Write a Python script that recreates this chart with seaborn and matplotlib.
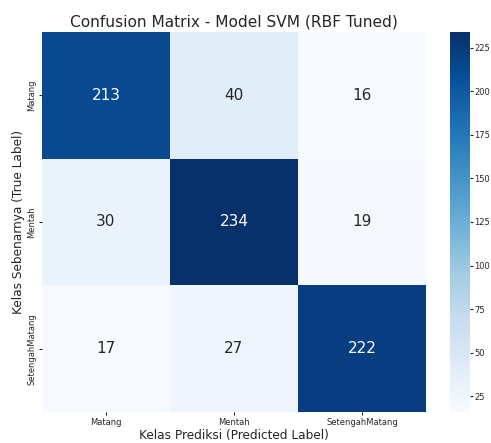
import matplotlib
matplotlib.use("Agg")
import matplotlib.pyplot as plt
import seaborn as sns
import numpy as np

labels = ["Matang", "Mentah", "SetengahMatang"]
row_matang = [213, 40, 16]
row_mentah = [30, 234, 19]
row_setengah = [17, 27, 222]

cm = np.array([row_matang, row_mentah, row_setengah])

plt.rcParams["text.color"] = ".15"
plt.rcParams["axes.labelcolor"] = ".15"
plt.rcParams["xtick.color"] = ".15"
plt.rcParams["ytick.color"] = ".15"

fig = plt.figure(figsize=(4.91, 4.43), dpi=100)
ax = fig.add_axes([0.0855, 0.070, 0.782, 0.858])
cax = fig.add_axes([0.917, 0.070, 0.041, 0.858])

sns.heatmap(cm, annot=True, fmt="d", cmap="Blues", ax=ax, cbar_ax=cax,
            xticklabels=labels, yticklabels=labels,
            annot_kws={"size": 11})
ax.set_title("Confusion Matrix - Model SVM (RBF Tuned)", fontsize=11.1, pad=4)
ax.set_xlabel("Kelas Prediksi (Predicted Label)", fontsize=8.7, labelpad=2)
ax.set_ylabel("Kelas Sebenarnya (True Label)", fontsize=8.7, labelpad=2)
ax.tick_params(axis="both", labelsize=6, length=2, pad=2)
ax.set_yticklabels(labels, rotation=90, va="center")
cax.tick_params(labelsize=6, length=2, pad=1)
cax.set_yticks([25, 50, 75, 100, 125, 150, 175, 200, 225])

plt.savefig("out.png", dpi=100)
